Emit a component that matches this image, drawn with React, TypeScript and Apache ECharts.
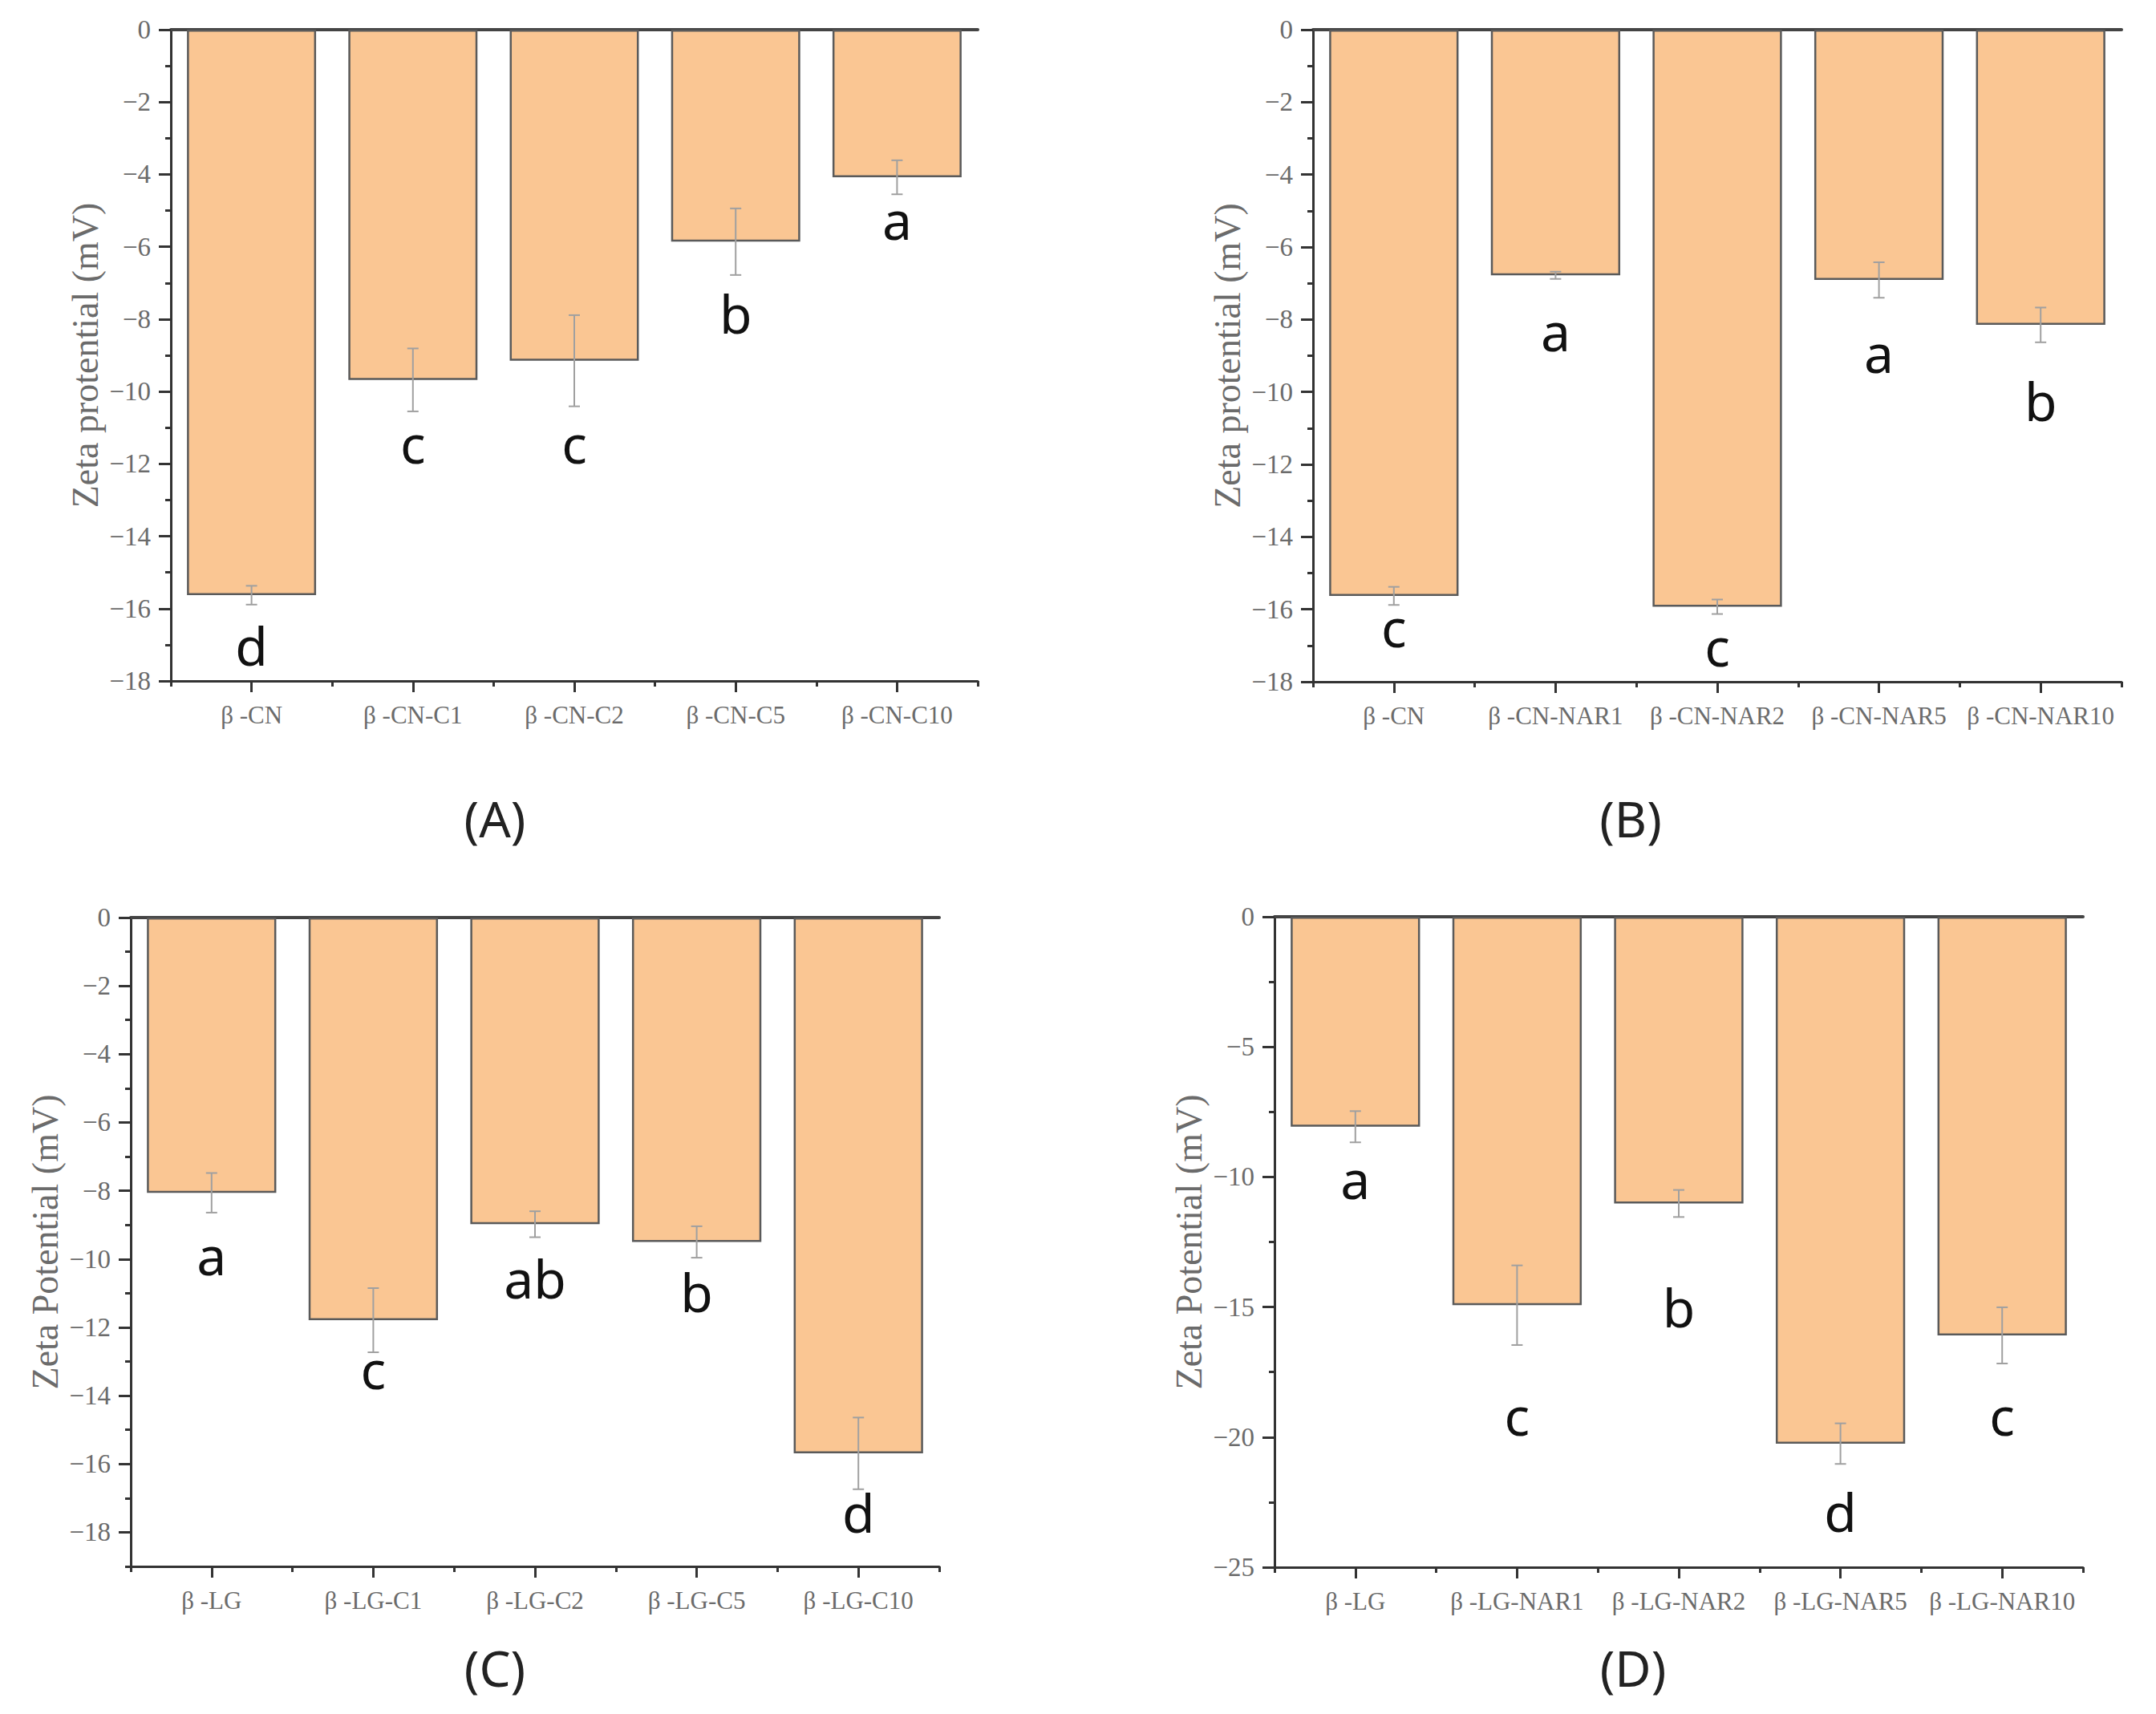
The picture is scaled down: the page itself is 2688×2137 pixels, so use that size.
import React, { useEffect, useRef } from 'react';
import * as echarts from 'echarts';

// ---------- data ----------
const catsA = ['β -CN', 'β -CN-C1', 'β -CN-C2', 'β -CN-C5', 'β -CN-C10'];
const valsA = [-15.63, -9.68, -9.15, -5.86, -4.08];
const errA = [0.26, 0.87, 1.26, 0.92, 0.47];
const lettersA = ['d', 'c', 'c', 'b', 'a'];
const letterPosA = [-17.0, -11.6, -11.6, -7.82, -5.4];

const catsB = ['β -CN', 'β -CN-NAR1', 'β -CN-NAR2', 'β -CN-NAR5', 'β -CN-NAR10'];
const valsB = [-15.63, -6.78, -15.93, -6.91, -8.15];
const errB = [0.25, 0.1, 0.2, 0.49, 0.48];
const lettersB = ['c', 'a', 'c', 'a', 'b'];
const letterPosB = [-16.64, -8.47, -17.17, -9.08, -10.22];

const catsC = ['β -LG', 'β -LG-C1', 'β -LG-C2', 'β -LG-C5', 'β -LG-C10'];
const valsC = [-8.06, -11.79, -8.98, -9.5, -15.69];
const errC = [0.58, 0.94, 0.38, 0.46, 1.05];
const lettersC = ['a', 'c', 'ab', 'b', 'd'];
const letterPosC = [-10.06, -13.39, -10.55, -10.95, -17.4];

const catsD = ['β -LG', 'β -LG-NAR1', 'β -LG-NAR2', 'β -LG-NAR5', 'β -LG-NAR10'];
const valsD = [-8.07, -14.93, -11.02, -20.25, -16.09];
const errD = [0.6, 1.53, 0.52, 0.78, 1.08];
const lettersD = ['a', 'c', 'b', 'd', 'c'];
const letterPosD = [-10.28, -19.4, -14.98, -22.85, -19.4];

const yNameAB = 'Zeta protential (mV)';
const yNameCD = 'Zeta Potential (mV)';
const panelTitles = ['(A)', '(B)', '(C)', '(D)'];

const yMinA = -18;
const yMinB = -18;
const yMinC = -19;
const yMinD = -25;
const yStepAB = 2;
const yStepC = 2;
const yStepD = 5;
const yMajorC = [0, -2, -4, -6, -8, -10, -12, -14, -16, -18];
const yMinorC = [-1, -3, -5, -7, -9, -11, -13, -15, -17, -19];

// ---------- styles ----------
const SERIF = '"Liberation Serif", "DejaVu Serif", serif';
const SANS = '"Noto Sans", "Open Sans", sans-serif';
const AXIS = '#333333';
const GRAY = '#6b6b6b';
const BAR = '#FAC693';
const BAR_BORDER = '#5a5a5a';
const ERR = '#a0a0a0';
const LETTER_F = 66;

const grids = [
  { left: 213, top: 37, width: 1006, height: 812 },
  { left: 1637, top: 37, width: 1008, height: 813 },
  { left: 163, top: 1144, width: 1008, height: 809 },
  { left: 1589, top: 1143, width: 1008, height: 811 },
];
const titlePos = [
  [617, 1020],
  [2033, 1020],
  [617, 2079],
  [2036, 2079],
];

const panels = [
  { cats: catsA, vals: valsA, err: errA, letters: lettersA, lpos: letterPosA, yName: yNameAB, min: yMinA, step: yStepAB },
  { cats: catsB, vals: valsB, err: errB, letters: lettersB, lpos: letterPosB, yName: yNameAB, min: yMinB, step: yStepAB },
  { cats: catsC, vals: valsC, err: errC, letters: lettersC, lpos: letterPosC, yName: yNameCD, min: yMinC, step: yStepC, custom: true },
  { cats: catsD, vals: valsD, err: errD, letters: lettersD, lpos: letterPosD, yName: yNameCD, min: yMinD, step: yStepD },
];

const fmtTick = (v: number) => String(v).replace('-', '\u2212');

function buildOption() {
  const xAxis: any[] = [];
  const yAxis: any[] = [];
  const series: any[] = [];

  panels.forEach((p, gi) => {
    const mainX = xAxis.length;
    xAxis.push({
      type: 'category', gridIndex: gi, data: p.cats, position: 'bottom', boundaryGap: true,
      axisLine: { show: true, onZero: false, lineStyle: { color: AXIS, width: 3 } },
      axisTick: { show: true, alignWithLabel: true, length: 14, lineStyle: { color: AXIS, width: 3 } },
      axisLabel: { show: true, margin: 27, fontFamily: SERIF, fontSize: 31, color: GRAY, interval: 0 },
      splitLine: { show: false },
    });
    xAxis.push({
      type: 'category', gridIndex: gi, data: p.cats, position: 'bottom', boundaryGap: true,
      axisLine: { show: false, onZero: false },
      axisTick: { show: true, alignWithLabel: false, length: 7, lineStyle: { color: AXIS, width: 3 }, interval: 0 },
      axisLabel: { show: false },
      splitLine: { show: false },
    });
    xAxis.push({
      type: 'category', gridIndex: gi, data: p.cats, position: 'top', boundaryGap: true,
      axisLine: { show: true, onZero: false, lineStyle: { color: '#444444', width: 4 } },
      axisTick: { show: false },
      axisLabel: { show: false },
      splitLine: { show: false },
    });

    const mainY = yAxis.length;
    const yBase: any = {
      type: 'value', gridIndex: gi, position: 'left', min: p.min, max: 0,
      name: p.yName, nameLocation: 'middle', nameGap: 84, nameRotate: 90,
      nameTextStyle: { fontFamily: SERIF, fontSize: 46, color: GRAY },
      axisLine: { show: true, onZero: false, lineStyle: { color: AXIS, width: 3 } },
      axisTick: { show: true, inside: false, length: 15, lineStyle: { color: AXIS, width: 3 } },
      axisLabel: { show: true, margin: 25, fontFamily: SERIF, fontSize: 33, color: GRAY, formatter: fmtTick },
      splitLine: { show: false },
      minorSplitLine: { show: false },
    };
    if (p.custom) {
      yBase.axisTick.customValues = yMajorC;
      yBase.axisLabel.customValues = yMajorC;
      yAxis.push(yBase);
      yAxis.push({
        type: 'value', gridIndex: gi, position: 'left', min: p.min, max: 0,
        axisLine: { show: false, onZero: false },
        axisTick: { show: true, inside: false, length: 7, lineStyle: { color: AXIS, width: 3 }, customValues: yMinorC },
        axisLabel: { show: false, customValues: yMinorC },
        splitLine: { show: false },
      });
    } else {
      yBase.interval = p.step;
      yBase.minorTick = { show: true, splitNumber: 2, length: 7, lineStyle: { color: AXIS, width: 3 } };
      yAxis.push(yBase);
    }

    series.push({
      type: 'bar', xAxisIndex: mainX, yAxisIndex: mainY, data: p.vals,
      barWidth: '80%',
      itemStyle: { color: BAR, borderColor: BAR_BORDER, borderWidth: 2.5 },
      z: 2,
    });

    series.push({
      type: 'custom', xAxisIndex: mainX, yAxisIndex: mainY, z: 3,
      data: p.vals.map((v, i) => [i, v, p.err[i]]),
      encode: { x: 0, y: 1 },
      renderItem: (params: any, api: any) => {
        const i = api.value(0);
        const v = api.value(1);
        const e = api.value(2);
        const top = api.coord([i, v + e]);
        const bot = api.coord([i, v - e]);
        const hw = 7;
        const st = { stroke: ERR, lineWidth: 2 };
        return {
          type: 'group',
          children: [
            { type: 'line', shape: { x1: top[0], y1: top[1], x2: bot[0], y2: bot[1] }, style: st },
            { type: 'line', shape: { x1: top[0] - hw, y1: top[1], x2: top[0] + hw, y2: top[1] }, style: st },
            { type: 'line', shape: { x1: bot[0] - hw, y1: bot[1], x2: bot[0] + hw, y2: bot[1] }, style: st },
          ],
        };
      },
    });

    series.push({
      type: 'custom', xAxisIndex: mainX, yAxisIndex: mainY, z: 4,
      data: p.lpos.map((v, i) => [i, v]),
      encode: { x: 0, y: 1 },
      renderItem: (params: any, api: any) => {
        const pt = api.coord([api.value(0), api.value(1)]);
        const txt = p.letters[params.dataIndex];
        const asc = /[bdfhklt]/.test(txt);
        return {
          type: 'text',
          x: pt[0],
          y: pt[1] + (asc ? 0 : -0.12 * LETTER_F),
          style: {
            text: txt, fontFamily: SANS, fontSize: LETTER_F, fill: '#111111',
            align: 'center', verticalAlign: 'middle',
          },
        };
      },
    });
  });

  const graphic = panelTitles.map((t, i) => ({
    type: 'text', x: titlePos[i][0], y: titlePos[i][1],
    style: { text: t, fontFamily: SANS, fontSize: 62, fill: '#222222', align: 'center', verticalAlign: 'middle' },
  }));

  return {
    animation: false,
    backgroundColor: '#ffffff',
    grid: grids.map((g) => ({ ...g, containLabel: false })),
    xAxis,
    yAxis,
    series,
    graphic,
  };
}

export default function App() {
  const ref = useRef<HTMLDivElement>(null);
  useEffect(() => {
    document.body.style.margin = '0';
    document.body.style.overflow = 'hidden';
    if (!ref.current) return;
    const chart = echarts.init(ref.current, null, { renderer: 'svg' });
    chart.setOption(buildOption() as any);
    return () => chart.dispose();
  }, []);
  return <div ref={ref} style={{ width: 2688, height: 2137 }} />;
}
